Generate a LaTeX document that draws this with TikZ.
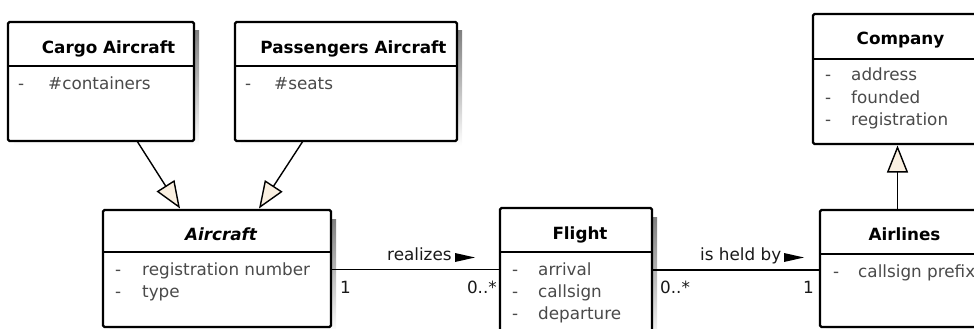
\documentclass[tikz,border=0pt]{standalone}
\usepackage{fontspec}
\setmainfont{DejaVu Sans}
\usetikzlibrary{arrows.meta}
\definecolor{cream}{HTML}{FAF0E1}
\definecolor{attr}{HTML}{4A4A4A}
\definecolor{shade}{HTML}{E4E4E4}
\tikzset{
  classbox/.style={draw=black, line width=2.3pt, rounded corners=1.5pt, fill=white, inner sep=0pt, outer sep=0pt, anchor=north west},
  titletext/.style={font=\fontsize{16.8}{20}\selectfont\bfseries, anchor=base, inner sep=0pt},
  attrtext/.style={font=\fontsize{16.8}{20}\selectfont, text=attr, anchor=base west, inner sep=0pt},
  lbl/.style={font=\fontsize{16.8}{20}\selectfont, text=black!90, inner sep=0pt},
  sepline/.style={line width=1.4pt},
  assoc/.style={line width=1.4pt},
  gen/.style={line width=1.4pt, -{Triangle[length=27pt,width=21pt,fill=cream,line width=1.4pt]}},
  navtri/.style={fill=black},
}
% name, x1, y1, x2, y2, width, height, separator y
\newcommand\classframe[8]{%
  \fill[shade] ({#2+6},{#3+9}) rectangle ({#4+5},{#5+5});
  \node[classbox, minimum width=#6pt, minimum height=#7pt] (#1) at (#2,#3) {};
  \draw[sepline] (#1.west |- 0,#8) -- (#1.east |- 0,#8);
}
\begin{document}
\begin{tikzpicture}[x=1pt, y=-1pt]
\useasboundingbox (0,0) rectangle (974,329);
\clip (0,0) rectangle (974,329);

% Cargo Aircraft
\classframe{cargo}{8}{22}{194}{141}{186}{119}{66}
\node[titletext] (cargoT) at (108.5,53) {Cargo Aircraft};
\node[attrtext] (cargoD1) at (18,89) {-};
\node[attrtext] (cargoA1) at (48,89) {\#containers};

% Passengers Aircraft
\classframe{pass}{235}{22}{457}{141}{222}{119}{66}
\node[titletext] (passT) at (353.5,53) {Passengers Aircraft};
\node[attrtext] (passD1) at (245,89) {-};
\node[attrtext] (passA1) at (274,89) {\#seats};

% Company
\classframe{company}{813}{14}{982}{144}{169}{130}{59}
\node[titletext] (companyT) at (900.5,45) {Company};
\node[attrtext] (companyD1) at (825,81) {-};
\node[attrtext] (companyA1) at (851,81) {address};
\node[attrtext] (companyD2) at (825,103) {-};
\node[attrtext] (companyA2) at (851,103) {founded};
\node[attrtext] (companyD3) at (825,125) {-};
\node[attrtext] (companyA3) at (851,125) {registration};

% Aircraft
\classframe{aircraft}{103}{210}{331}{327}{228}{117}{252}
\node[titletext, font=\fontsize{16.8}{20}\selectfont\bfseries\itshape] (aircraftT) at (221,240.5) {Aircraft};
\node[attrtext] (aircraftD1) at (115,275) {-};
\node[attrtext] (aircraftA1) at (142,275) {registration number};
\node[attrtext] (aircraftD2) at (115,297) {-};
\node[attrtext] (aircraftA2) at (142,297) {type};

% Flight
\classframe{flight}{500}{208}{652}{340}{152}{132}{252}
\node[titletext] (flightT) at (580,239) {Flight};
\node[attrtext] (flightD1) at (512,275) {-};
\node[attrtext] (flightA1) at (538,275) {arrival};
\node[attrtext] (flightD2) at (512,297) {-};
\node[attrtext] (flightA2) at (538,297) {callsign};
\node[attrtext] (flightD3) at (512,319) {-};
\node[attrtext] (flightA3) at (538,319) {departure};

% Airlines
\classframe{airlines}{820}{210}{982}{327}{162}{117}{254}
\node[titletext] (airlinesT) at (904.5,240.5) {Airlines};
\node[attrtext] (airlinesD1) at (833,277) {-};
\node[attrtext] (airlinesA1) at (858,277) {callsign prefix};

% Generalizations
\draw[gen] (137,0 |- cargo.south) -- (180,208.5);
\draw[gen] (303,0 |- pass.south) -- (259,208.5);
\draw[gen] (897.5,0 |- airlines.north) -- (897.5,145.5);

% Associations
\draw[assoc] (aircraft.east |- 0,269.5) -- (flight.west |- 0,269.5);
\draw[assoc] (flight.east |- 0,270) -- (airlines.west |- 0,270);

\node[lbl, anchor=base west] (realizes) at (387,260.7) {realizes};
\fill[navtri] (455,253) -- (475,257.5) -- (455,262) -- cycle;
\node[lbl, anchor=base west] (heldby) at (700,260.7) {is held by};
\fill[navtri] (784,253) -- (804,257.5) -- (784,262) -- cycle;

\node[lbl, anchor=base west] (m1) at (340,293) {1};
\node[lbl, anchor=base east] (m2) at (497,293) {0..*};
\node[lbl, anchor=base west] (m3) at (660,293) {0..*};
\node[lbl, anchor=base east] (m4) at (814,293) {1};
\end{tikzpicture}
\end{document}
